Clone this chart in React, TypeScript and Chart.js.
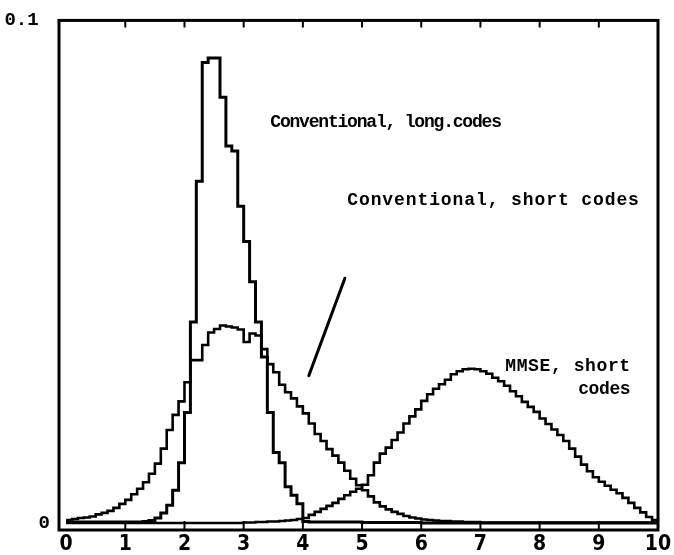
import React, { useEffect, useRef } from "react";
import { Chart, registerables } from "chart.js";

Chart.register(...registerables);

// Bin starts 0.0 .. 9.9 (bin width 0.1); the last bin closes at 10
const BIN_WIDTH = 0.1;
const binStarts: number[] = Array.from({ length: 100 }, (_, i) => Math.round(i * BIN_WIDTH * 10) / 10);

const xTickValues = [0, 1, 2, 3, 4, 5, 6, 7, 8, 9, 10];
const yTickValues = [0, 0.1];
const yTickLabels = ["0", "0.1 "];

// Conventional, long codes
const longCodes = [
  0.0002, 0.0002, 0.0002, 0.0002, 0.0002, 0.0002, 0.0002, 0.0002, 0.0002, 0.0002,
  0.0002, 0.0002, 0.0002, 0.0003, 0.0005, 0.0010, 0.0020, 0.0035, 0.0065, 0.0120,
  0.0220, 0.0400, 0.0680, 0.0916, 0.0925, 0.0925, 0.0847, 0.0750, 0.0740, 0.0630,
  0.0560, 0.0480, 0.0400, 0.0330, 0.0220, 0.0140, 0.0120, 0.0072, 0.0055, 0.0038,
  0.0003, 0.0002, 0.0002, 0.0002, 0.0002, 0.0002, 0.0002, 0.0002, 0.0002, 0.0002,
  0.0001, 0.0001, 0.0001, 0.0001, 0.0001, 0.0001, 0.0001, 0.0001, 0.0001, 0.0001,
  0, 0, 0, 0, 0, 0, 0, 0, 0, 0,
  0, 0, 0, 0, 0, 0, 0, 0, 0, 0,
  0, 0, 0, 0, 0, 0, 0, 0, 0, 0,
  0, 0, 0, 0, 0, 0, 0, 0, 0, 0,
];

// Conventional, short codes
const shortCodes = [
  0.0006, 0.0008, 0.0010, 0.0011, 0.0013, 0.0017, 0.0020, 0.0024, 0.0030, 0.0038,
  0.0046, 0.0057, 0.0068, 0.0081, 0.0098, 0.0118, 0.0148, 0.0185, 0.0215, 0.0242,
  0.0280, 0.0324, 0.0324, 0.0354, 0.0379, 0.0386, 0.0393, 0.0391, 0.0389, 0.0385,
  0.0360, 0.0377, 0.0373, 0.0346, 0.0316, 0.0300, 0.0275, 0.0260, 0.0248, 0.0232,
  0.0218, 0.0198, 0.0177, 0.0163, 0.0147, 0.0134, 0.0120, 0.0104, 0.0088, 0.0075,
  0.0065, 0.0053, 0.0041, 0.0033, 0.0027, 0.0022, 0.0018, 0.0014, 0.0011, 0.0009,
  0.0007, 0.0006, 0.0005, 0.0004, 0.0004, 0.0003, 0.0003, 0.0002, 0.0002, 0.0002,
  0.0001, 0.0001, 0.0001, 0.0001, 0.0001, 0.0001, 0.0001, 0.0001, 0.0001, 0.0001,
  0.0001, 0.0001, 0.0001, 0.0001, 0.0001, 0.0001, 0.0001, 0.0001, 0.0001, 0.0001,
  0.0001, 0.0001, 0.0001, 0.0001, 0.0001, 0.0001, 0.0001, 0.0001, 0.0001, 0.0001,
];

// MMSE, short codes
const mmseShort = [
  0, 0, 0, 0, 0, 0, 0, 0, 0, 0,
  0, 0, 0, 0, 0, 0, 0, 0, 0, 0,
  0, 0, 0, 0, 0, 0, 0, 0, 0, 0,
  0.0001, 0.0001, 0.0002, 0.0002, 0.0003, 0.0003, 0.0004, 0.0005, 0.0006, 0.0008,
  0.0010, 0.0016, 0.0022, 0.0028, 0.0034, 0.0040, 0.0048, 0.0055, 0.0062, 0.0068,
  0.0076, 0.0095, 0.0120, 0.0138, 0.0150, 0.0165, 0.0180, 0.0198, 0.0212, 0.0226,
  0.0243, 0.0256, 0.0267, 0.0276, 0.0285, 0.0296, 0.0302, 0.0306, 0.0307, 0.0306,
  0.0302, 0.0297, 0.0289, 0.0282, 0.0273, 0.0262, 0.0252, 0.0241, 0.0231, 0.0221,
  0.0208, 0.0197, 0.0186, 0.0175, 0.0163, 0.0148, 0.0132, 0.0116, 0.0103, 0.0091,
  0.0082, 0.0074, 0.0066, 0.0059, 0.0050, 0.0040, 0.0030, 0.0021, 0.0012, 0.0006,
];

// Annotations (data coordinates)
const annotations = [
  { text: "Conventional, long.codes", x: 3.45, y: 0.0796, align: "left", spacing: -1.2 },
  { text: "Conventional, short codes", x: 4.75, y: 0.0642, align: "left", spacing: 0.9 },
  { text: "MMSE, short", x: 7.42, y: 0.0312, align: "left", spacing: 0.6 },
  { text: "codes", x: 9.53, y: 0.0265, align: "right", spacing: -0.4 },
];
const leader = { x1: 4.71, y1: 0.0487, x2: 4.1, y2: 0.0293 };

function toPoints(values: number[]) {
  const pts = binStarts.map((x, i) => ({ x, y: values[i] }));
  pts.push({ x: 10, y: values[values.length - 1] });
  return pts;
}

const framePlugin = {
  id: "frameAndNotes",
  afterDatasetsDraw(chart: any) {
    const { ctx, chartArea, scales } = chart;
    const xs = scales.x;
    const ys = scales.y;
    ctx.save();
    ctx.strokeStyle = "#000";
    ctx.lineWidth = 3;
    ctx.strokeRect(chartArea.left, chartArea.top, chartArea.right - chartArea.left, chartArea.bottom - chartArea.top);
    // inward tick marks
    ctx.lineWidth = 2;
    for (const v of xTickValues) {
      if (v === 0 || v === 10) continue;
      const px = xs.getPixelForValue(v);
      ctx.beginPath();
      ctx.moveTo(px, chartArea.bottom);
      ctx.lineTo(px, chartArea.bottom - 9);
      ctx.moveTo(px, chartArea.top);
      ctx.lineTo(px, chartArea.top + 7);
      ctx.stroke();
    }
    // leader line
    ctx.lineWidth = 3;
    ctx.lineCap = "round";
    ctx.beginPath();
    ctx.moveTo(xs.getPixelForValue(leader.x1), ys.getPixelForValue(leader.y1));
    ctx.lineTo(xs.getPixelForValue(leader.x2), ys.getPixelForValue(leader.y2));
    ctx.stroke();
    // texts
    ctx.fillStyle = "#000";
    ctx.font = 'bold 18px "Liberation Mono", "DejaVu Sans Mono", monospace';
    ctx.textBaseline = "middle";
    for (const a of annotations) {
      (ctx as any).letterSpacing = a.spacing + "px";
      ctx.textAlign = a.align as CanvasTextAlign;
      ctx.fillText(a.text, xs.getPixelForValue(a.x), ys.getPixelForValue(a.y));
    }
    ctx.restore();
  },
};

export default function App() {
  const ref = useRef<HTMLCanvasElement | null>(null);
  useEffect(() => {
    if (!ref.current) return;
    const lineDs = (label: string, values: number[], width: number) => ({
      label,
      data: toPoints(values),
      stepped: true,
      borderColor: "#000",
      borderWidth: width,
      pointRadius: 0,
      fill: false,
      tension: 0,
    });
    const chart = new Chart(ref.current, {
      type: "line",
      data: {
        datasets: [
          lineDs("Conventional, long codes", longCodes, 3),
          lineDs("Conventional, short codes", shortCodes, 2.6),
          lineDs("MMSE, short codes", mmseShort, 2.6),
        ],
      },
      options: {
        animation: false,
        responsive: true,
        maintainAspectRatio: false,
        layout: { padding: { left: 0, top: 14, right: 16, bottom: 0 } },
        plugins: { legend: { display: false }, tooltip: { enabled: false } },
        scales: {
          x: {
            type: "linear",
            min: -0.12,
            max: 10,
            afterBuildTicks: (axis: any) => {
              axis.ticks = xTickValues.map((value) => ({ value }));
            },
            afterFit: (scale: any) => {
              scale.height = 25;
            },
            grid: { display: false, drawTicks: false },
            border: { display: false },
            ticks: {
              padding: 2,
              color: "#000",
              maxRotation: 0,
              autoSkip: false,
              font: { family: '"DejaVu Sans Condensed", "Liberation Sans", sans-serif', size: 21, weight: "bold" },
              callback: (v: any) => String(v),
            },
          },
          y: {
            type: "linear",
            min: -0.0014,
            max: 0.1,
            afterBuildTicks: (axis: any) => {
              axis.ticks = yTickValues.map((value) => ({ value }));
            },
            afterFit: (scale: any) => {
              scale.width = 59;
            },
            grid: { display: false, drawTicks: false },
            border: { display: false },
            ticks: {
              padding: 9,
              color: "#000",
              autoSkip: false,
              font: { family: '"Liberation Mono", "DejaVu Sans Mono", monospace', size: 19, weight: "bold" },
              callback: (v: any) => yTickLabels[yTickValues.indexOf(Number(v))] ?? "",
            },
          },
        },
      },
      plugins: [framePlugin],
    });
    return () => chart.destroy();
  }, []);
  return (
    <div style={{ position: "fixed", left: 0, top: 0, width: 674, height: 555, background: "#fff" }}>
      <canvas ref={ref} />
    </div>
  );
}
